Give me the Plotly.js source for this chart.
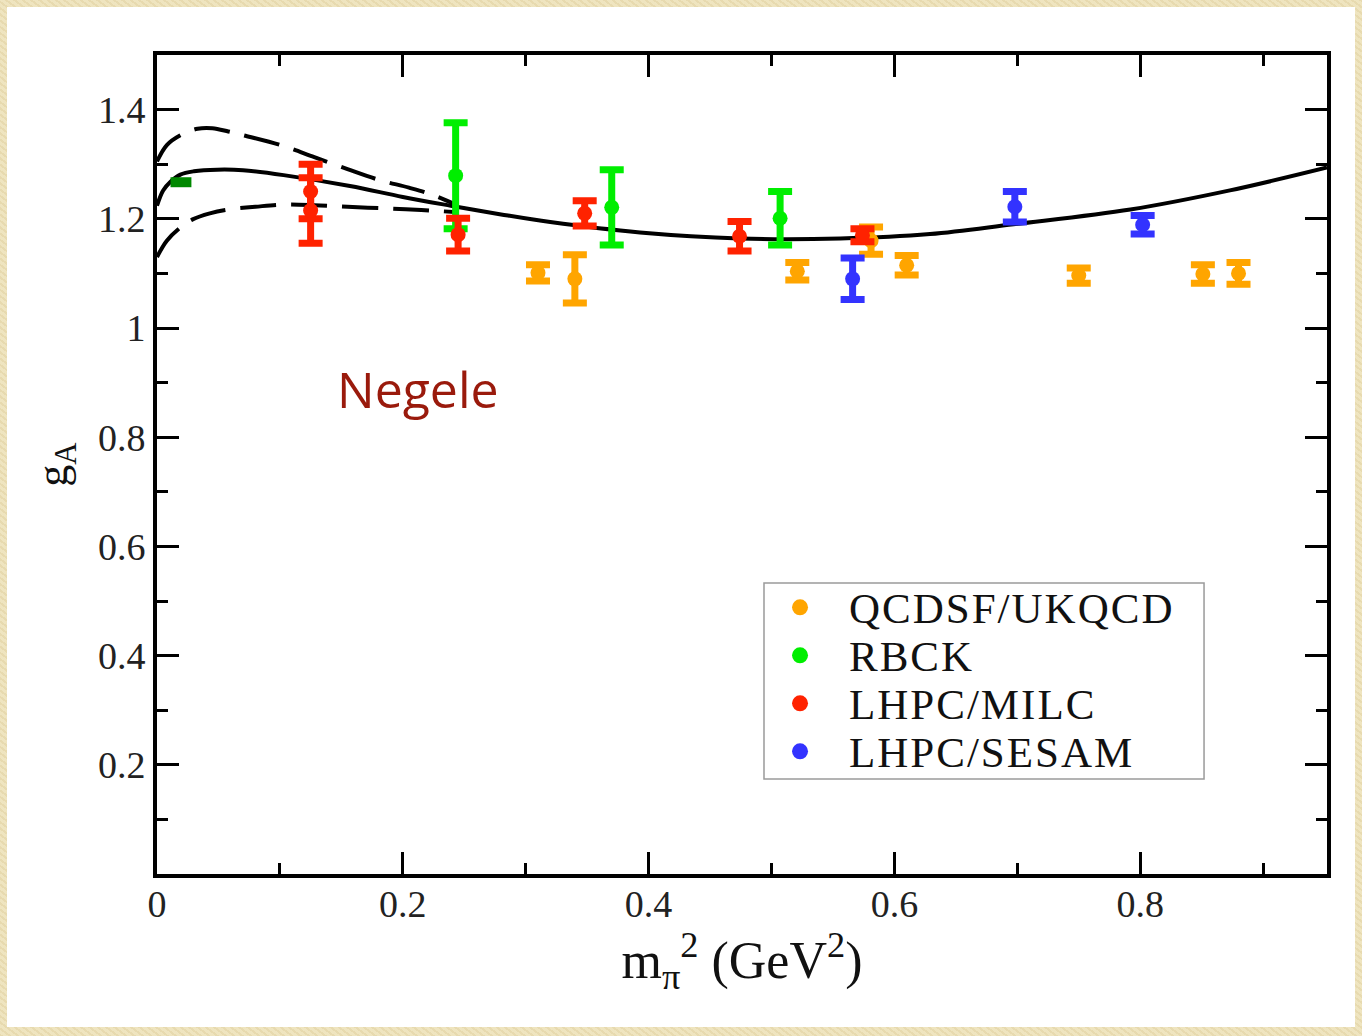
<!DOCTYPE html>
<html>
<head>
<meta charset="utf-8">
<script src="https://cdn.plot.ly/plotly-3.0.1.min.js"></script>
<style>
  html, body { margin: 0; padding: 0; }
  body { width: 1362px; height: 1036px; background: #ede2bb; position: relative; overflow: hidden;
         background-image: repeating-linear-gradient(37deg, rgba(190,160,90,0.12) 0 2px, rgba(255,250,230,0.10) 2px 5px); }
  #chart { position: absolute; left: 7px; top: 7px; width: 1348px; height: 1020px; background: #fff; }
  .annotation:not([data-index="4"]) .annotation-text { letter-spacing: 2px; }
</style>
</head>
<body>
<div id="chart"></div>
<script>
// ---- data ----
const qcdsfX   = [0.310, 0.340, 0.521, 0.581, 0.610, 0.750, 0.851, 0.880];
const qcdsfY   = [1.101, 1.090, 1.104, 1.160, 1.115, 1.096, 1.099, 1.100];
const qcdsfErr = [0.015, 0.044, 0.016, 0.025, 0.018, 0.014, 0.017, 0.020];

const rbckX   = [0.243, 0.370, 0.507];
const rbckY   = [1.279, 1.221, 1.201];
const rbckErr = [0.097, 0.069, 0.049];

const milcX   = [0.125, 0.125, 0.245, 0.348, 0.474, 0.574];
const milcY   = [1.250, 1.215, 1.171, 1.210, 1.168, 1.170];
const milcErr = [0.050, 0.060, 0.030, 0.023, 0.027, 0.012];

const sesamX   = [0.566, 0.698, 0.802];
const sesamY   = [1.090, 1.222, 1.189];
const sesamErr = [0.038, 0.028, 0.017];

const exptX = [0.011, 0.028];
const exptY = [1.267, 1.267];

const fitX = [0.000, 0.005, 0.011, 0.019, 0.030, 0.049, 0.070, 0.103, 0.157, 0.200, 0.239, 0.280, 0.320, 0.393, 0.474, 0.556, 0.629, 0.697, 0.792, 0.873, 0.952];
const fitY = [1.224, 1.252, 1.268, 1.281, 1.287, 1.290, 1.289, 1.280, 1.260, 1.240, 1.224, 1.208, 1.194, 1.175, 1.164, 1.164, 1.172, 1.190, 1.217, 1.252, 1.294];

const upX = [0.000, 0.008, 0.019, 0.033, 0.045, 0.058, 0.072, 0.102, 0.128, 0.155, 0.181, 0.205, 0.224, 0.245];
const upY = [1.305, 1.335, 1.353, 1.365, 1.366, 1.360, 1.352, 1.334, 1.313, 1.291, 1.271, 1.257, 1.244, 1.224];

const loX = [0.000, 0.008, 0.019, 0.029, 0.043, 0.058, 0.080, 0.102, 0.128, 0.155, 0.187, 0.215, 0.245];
const loY = [1.130, 1.160, 1.184, 1.199, 1.210, 1.217, 1.222, 1.226, 1.225, 1.222, 1.219, 1.216, 1.212];

const seriesNames  = ['QCDSF/UKQCD', 'RBCK', 'LHPC/MILC', 'LHPC/SESAM'];
const seriesColors = ['#ffa500', '#00ee00', '#ff2200', '#3333ff'];

const xTickVals = [0, 0.2, 0.4, 0.6, 0.8];
const xTickText = ['0', '0.2', '0.4', '0.6', '0.8'];
const yTickVals = [0.2, 0.4, 0.6, 0.8, 1.0, 1.2, 1.4];
const yTickText = ['0.2', '0.4', '0.6', '0.8', '1', '1.2', '1.4'];

// ---- traces ----
const lineStyle = {color: '#000', width: 4, shape: 'spline', smoothing: 1};
function pts(x, y, err, i) {
  return {
    type: 'scatter', mode: 'markers', x: x, y: y, name: seriesNames[i], showlegend: false,
    marker: {color: seriesColors[i], size: 15},
    error_y: {type: 'data', array: err, visible: true, color: seriesColors[i], thickness: 7, width: 12}
  };
}
const data = [
  {type: 'scatter', mode: 'lines', x: upX, y: upY, showlegend: false, hoverinfo: 'skip',
   line: Object.assign({}, lineStyle, {dash: '36px,15px'})},
  {type: 'scatter', mode: 'lines', x: loX, y: loY, showlegend: false, hoverinfo: 'skip',
   line: Object.assign({}, lineStyle, {dash: '36px,15px'})},
  {type: 'scatter', mode: 'lines', x: fitX, y: fitY, showlegend: false, line: lineStyle},
  {type: 'scatter', mode: 'lines', x: exptX, y: exptY, showlegend: false, line: {color: '#008800', width: 10}},
  pts(qcdsfX, qcdsfY, qcdsfErr, 0),
  pts(rbckX, rbckY, rbckErr, 1),
  pts(milcX, milcY, milcErr, 2),
  pts(sesamX, sesamY, sesamErr, 3)
];

// ---- manual legend (compact, like the reference) ----
const legX0 = 0.5188, legX1 = 0.8949, legY0 = 0.116, legY1 = 0.3553;
const legRowY = [0.3236, 0.2650, 0.2064, 0.1478];
const shapes = [{type: 'rect', xref: 'paper', yref: 'paper', x0: legX0, x1: legX1, y0: legY0, y1: legY1,
                 line: {color: '#9a9a9a', width: 1.5}, fillcolor: 'rgba(0,0,0,0)'}];
const annotations = [];
seriesNames.forEach(function (n, i) {
  shapes.push({type: 'circle', xref: 'paper', yref: 'paper', xsizemode: 'pixel', ysizemode: 'pixel',
               xanchor: 0.5496, yanchor: legRowY[i] + 0.002, x0: -8, x1: 8, y0: -8, y1: 8,
               fillcolor: seriesColors[i], line: {width: 0}});
  annotations.push({xref: 'paper', yref: 'paper', x: 0.5897, y: legRowY[i], xanchor: 'left', yanchor: 'middle',
                    align: 'left', text: n, showarrow: false,
                    font: {family: 'Liberation Serif', size: 43, color: '#111'}});
});
annotations.push({xref: 'paper', yref: 'paper', x: 0.223, y: 0.592, xanchor: 'center', yanchor: 'middle',
                  text: 'Negele', showarrow: false, font: {family: 'Open Sans', size: 50, color: '#9a1a0c'}});

const tickFont = {family: 'Liberation Serif', size: 38, color: '#222'};
const layout = {
  width: 1348, height: 1020,
  margin: {l: 150, r: 28, t: 48, b: 153},
  paper_bgcolor: '#ffffff', plot_bgcolor: '#ffffff',
  showlegend: false,
  xaxis: {
    range: [0, 0.952], showgrid: false, zeroline: false,
    showline: true, linecolor: '#000', linewidth: 4, mirror: 'allticks',
    ticks: 'inside', ticklen: 22, tickwidth: 3, tickcolor: '#000',
    tickmode: 'array', tickvals: xTickVals, ticktext: xTickText, tickfont: tickFont,
    ticklabelstandoff: -7,
    minor: {ticks: 'inside', ticklen: 11, tickwidth: 3, tickcolor: '#000', tickmode: 'linear', tick0: 0, dtick: 0.1},
    title: {text: 'm<sub>π</sub><sup>2</sup> (GeV<sup>2</sup>)', font: {family: 'Liberation Serif', size: 52, color: '#111'}, standoff: 10}
  },
  yaxis: {
    range: [0, 1.5], showgrid: false, zeroline: false,
    showline: true, linecolor: '#000', linewidth: 4, mirror: 'allticks',
    ticks: 'inside', ticklen: 22, tickwidth: 3, tickcolor: '#000',
    tickmode: 'array', tickvals: yTickVals, ticktext: yTickText, tickfont: tickFont,
    minor: {ticks: 'inside', ticklen: 11, tickwidth: 3, tickcolor: '#000', tickmode: 'linear', tick0: 0, dtick: 0.1},
    title: {text: 'g<sub>A</sub>', font: {family: 'Liberation Serif', size: 44, color: '#111'}, standoff: 18}
  },
  shapes: shapes,
  annotations: annotations
};

Plotly.newPlot('chart', data, layout, {displayModeBar: false, staticPlot: true});
</script>
</body>
</html>
